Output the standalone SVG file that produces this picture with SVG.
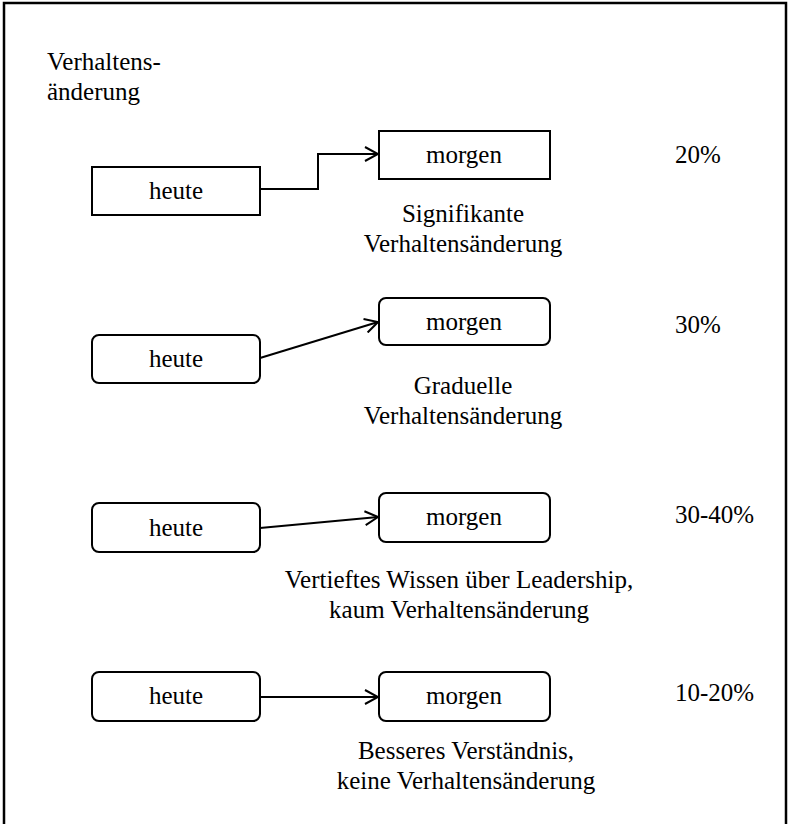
<svg xmlns="http://www.w3.org/2000/svg" width="789" height="824" viewBox="0 0 789 824">
<defs>
<style>
text{font-family:"Liberation Serif","Times New Roman",serif;font-size:25px;fill:#000}
.c{text-anchor:middle}
.box{fill:#fff;stroke:#000;stroke-width:2}
.ln{fill:none;stroke:#000;stroke-width:2}
</style>
<marker id="arr" markerWidth="16" markerHeight="16" refX="14" refY="8" orient="auto" markerUnits="userSpaceOnUse">
<path d="M1,1 L14,8 L1,15" fill="none" stroke="#000" stroke-width="2"/>
</marker>
</defs>
<rect x="0" y="0" width="789" height="824" fill="#fff"/>
<rect x="4" y="3" width="782" height="840" fill="none" stroke="#000" stroke-width="2.5"/>
<g id="title">
<text x="47" y="70">Verhaltens-</text>
<text x="47" y="100">änderung</text>
</g>
<g id="connectors">
<path class="ln" d="M260,189 H318 V154 H378" marker-end="url(#arr)"/>
<path class="ln" d="M260,358 L378,322" marker-end="url(#arr)"/>
<path class="ln" d="M260,528 L378,517" marker-end="url(#arr)"/>
<path class="ln" d="M260,697 H378" marker-end="url(#arr)"/>
</g>
<g id="heute1"><rect class="box" x="92" y="167" width="168" height="48"/><text class="c" x="176" y="199">heute</text></g>
<g id="morgen1"><rect class="box" x="379" y="131" width="171" height="48"/><text class="c" x="464" y="163">morgen</text></g>
<g id="label1"><text class="c" x="463" y="222">Signifikante</text><text class="c" x="463" y="252">Verhaltensänderung</text></g>
<g id="pct1"><text x="675" y="163">20%</text></g>
<g id="heute2"><rect class="box" x="92" y="335" width="168" height="48" rx="7"/><text class="c" x="176" y="367">heute</text></g>
<g id="morgen2"><rect class="box" x="379" y="298" width="171" height="47" rx="7"/><text class="c" x="464" y="330">morgen</text></g>
<g id="label2"><text class="c" x="463" y="394">Graduelle</text><text class="c" x="463" y="424">Verhaltensänderung</text></g>
<g id="pct2"><text x="675" y="333">30%</text></g>
<g id="heute3"><rect class="box" x="92" y="503" width="168" height="49" rx="7"/><text class="c" x="176" y="536">heute</text></g>
<g id="morgen3"><rect class="box" x="379" y="493" width="171" height="49" rx="7"/><text class="c" x="464" y="525">morgen</text></g>
<g id="label3"><text class="c" x="459" y="588">Vertieftes Wissen über Leadership,</text><text class="c" x="459" y="618">kaum Verhaltensänderung</text></g>
<g id="pct3"><text x="675" y="523">30-40%</text></g>
<g id="heute4"><rect class="box" x="92" y="672" width="168" height="49" rx="7"/><text class="c" x="176" y="704">heute</text></g>
<g id="morgen4"><rect class="box" x="379" y="672" width="171" height="49" rx="7"/><text class="c" x="464" y="704">morgen</text></g>
<g id="label4"><text class="c" x="466" y="759">Besseres Verständnis,</text><text class="c" x="466" y="789">keine Verhaltensänderung</text></g>
<g id="pct4"><text x="675" y="701">10-20%</text></g>
</svg>
